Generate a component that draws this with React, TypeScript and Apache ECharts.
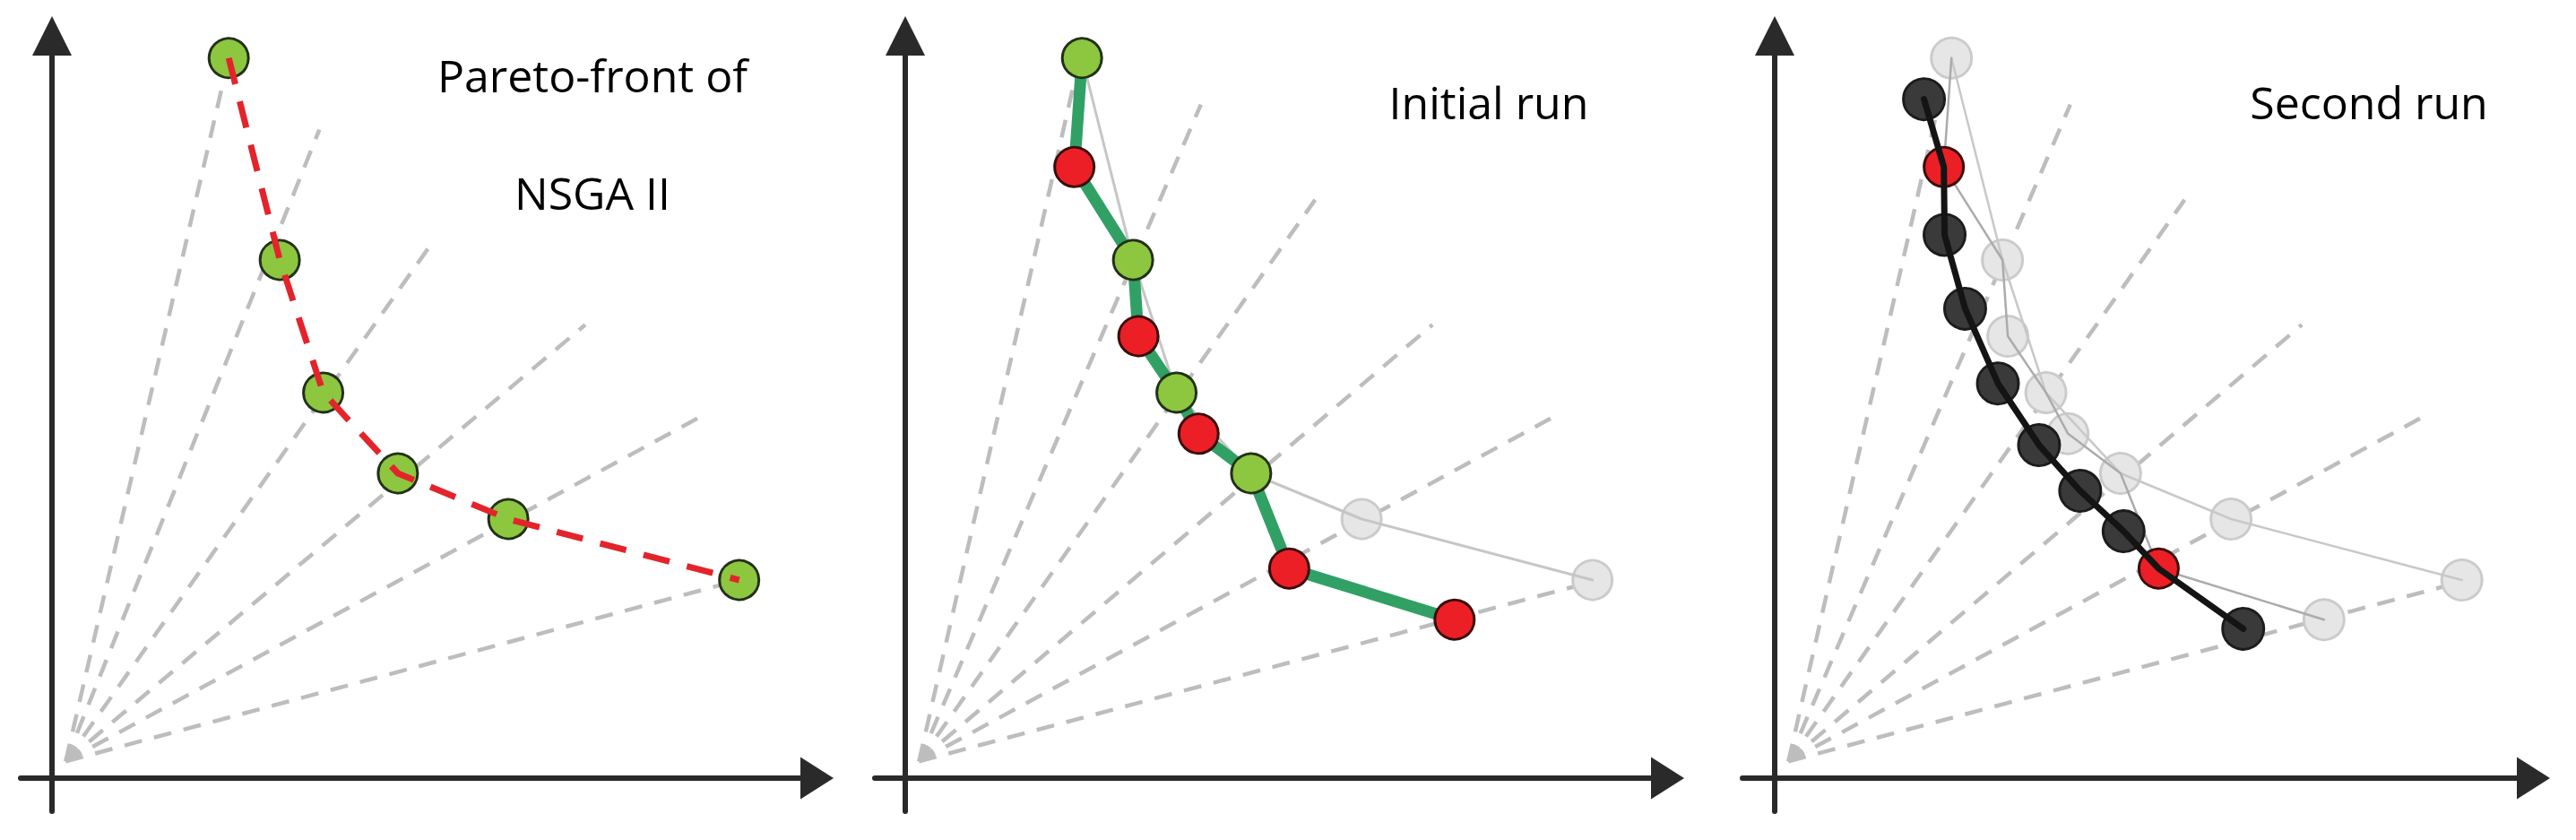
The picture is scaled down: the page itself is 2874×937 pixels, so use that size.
import React, { useEffect, useRef } from 'react';
import * as echarts from 'echarts';

type Pt = [number, number];

// ---- data (objective values f1, f2; arbitrary units) ----
// Pareto front of NSGA II (initial front)
const INITIAL_FRONT: Pt[] = [
  [23.2, 94.5], [29.9, 68.0], [35.6, 50.6], [45.4, 40.0], [59.9, 34.0], [90.2, 26.0],
];
// new (red) solutions found in the initial run
const RUN1_NEW: Pt[] = [
  [22.2, 80.2], [30.6, 58.0], [38.5, 45.2], [50.4, 27.5], [72.1, 20.8],
];
// new (dark) solutions found in the second run
const RUN2_NEW: Pt[] = [
  [19.6, 89.1], [22.3, 71.3], [25.0, 61.6], [29.3, 51.8], [34.7, 43.7], [40.1, 37.7], [45.8, 32.4], [61.5, 19.6],
];
// fronts as ordered references: I = initial front, N = run-1 new, D = run-2 new
const RUN1_PATH: [string, number][] = [
  ['I', 0], ['N', 0], ['I', 1], ['N', 1], ['I', 2], ['N', 2], ['I', 3], ['N', 3], ['N', 4],
];
const RUN2_PATH: [string, number][] = [
  ['D', 0], ['N', 0], ['D', 1], ['D', 2], ['D', 3], ['D', 4], ['D', 5], ['D', 6], ['N', 3], ['D', 7],
];
const RUN1_KEPT: number[] = [0, 3];
const INITIAL_KEPT_RUN1: number[] = [0, 1, 2, 3];

// reference directions (rays)
const RAY_ORIGIN: Pt = [1.8, 2.2];
const RAY_ENDS_FRONT: Pt[] = [
  [23.2, 94.5], [35.1, 85.1], [50.0, 70.4], [70.0, 59.5], [84.7, 47.2], [90.2, 26.0],
];
const RAY_ENDS_RUNS: Pt[] = [
  [22.9, 94.5], [38.8, 88.4], [53.8, 75.9], [69.2, 59.5], [84.7, 47.2], [89.9, 25.7],
];

const TITLES: string[][] = [['Pareto-front of', 'NSGA II'], ['Initial run'], ['Second run']];

// ---- layout (pixels) ----
const S = 8.5; // px per unit
const PANELS = [
  { ox: 58, oy: 868, left: 23, right: 893, top: 62, bottom: 905 },
  { ox: 1010, oy: 868, left: 976, right: 1842, top: 62, bottom: 905 },
  { ox: 1980, oy: 868, left: 1944, right: 2808, top: 62, bottom: 905 },
];
const TITLE_POS: number[][][] = [[[661, 84], [661, 215]], [[1661, 114]], [[2643, 114]]];

const AXIS_COLOR = '#2a2a2a';
const RAY_COLOR = '#bdbdbd';
const GREEN = '#8dc63f';
const GREEN_BORDER = '#22301a';
const RED = '#ec1f26';
const RED_BORDER = '#3a0c0c';
const DARK = '#3a3a3a';
const DARK_BORDER = '#1c1c1c';
const GHOST = '#e6e6e6';
const GHOST_BORDER = '#cbcbcb';

const lookup = (set: string, idx: number): Pt =>
  set === 'I' ? INITIAL_FRONT[idx] : set === 'N' ? RUN1_NEW[idx] : RUN2_NEW[idx];

function buildOption(): any {
  const grid = PANELS.map((p) => ({
    left: p.left,
    top: p.top,
    width: p.right - p.left,
    height: p.bottom - p.top,
    containLabel: false,
  }));
  const hidden = {
    axisTick: { show: false },
    axisLabel: { show: false },
    splitLine: { show: false },
  };
  const xAxis = PANELS.map((p, i) => ({
    type: 'value',
    gridIndex: i,
    min: (p.left - p.ox) / S,
    max: (p.right - p.ox) / S,
    axisLine: {
      show: true,
      onZero: true,
      symbol: ['none', 'triangle'],
      symbolSize: [47, 37],
      symbolOffset: [0, 18.5],
      lineStyle: { color: AXIS_COLOR, width: 6 },
    },
    ...hidden,
  }));
  const yAxis = PANELS.map((p, i) => ({
    type: 'value',
    gridIndex: i,
    min: (p.oy - p.bottom) / S,
    max: (p.oy - p.top) / S,
    axisLine: {
      show: true,
      onZero: true,
      symbol: ['none', 'triangle'],
      symbolSize: [44, 44],
      symbolOffset: [0, 22],
      lineStyle: { color: AXIS_COLOR, width: 6 },
    },
    ...hidden,
  }));

  const rays = (i: number, ends: Pt[]) => ({
    type: 'lines',
    coordinateSystem: 'cartesian2d',
    xAxisIndex: i,
    yAxisIndex: i,
    data: ends.map((e) => ({ coords: [RAY_ORIGIN, e] })),
    lineStyle: { color: RAY_COLOR, width: 4.5, type: [20, 14], opacity: 1, curveness: 0 },
    z: 1,
    silent: true,
  });
  const markers = (i: number, data: Pt[], fill: string, border: string, z: number, size = 44) => ({
    type: 'scatter',
    xAxisIndex: i,
    yAxisIndex: i,
    data,
    symbol: 'circle',
    symbolSize: size,
    itemStyle: { color: fill, borderColor: border, borderWidth: 3, opacity: 1 },
    z,
    silent: true,
    clip: false,
  });
  const path = (i: number, data: Pt[], color: string, width: number, z: number, type: any = 'solid') => ({
    type: 'line',
    xAxisIndex: i,
    yAxisIndex: i,
    data,
    symbol: 'none',
    showSymbol: false,
    lineStyle: { color, width, type, cap: type === 'solid' ? 'round' : 'butt', join: 'round' },
    z,
    silent: true,
    clip: false,
  });

  const run1Front = RUN1_PATH.map(([s, k]) => lookup(s, k));
  const run2Front = RUN2_PATH.map(([s, k]) => lookup(s, k));

  const series: any[] = [
    // panel 1
    rays(0, RAY_ENDS_FRONT),
    markers(0, INITIAL_FRONT, GREEN, GREEN_BORDER, 2),
    path(0, INITIAL_FRONT, '#e3242b', 7, 3, [30, 20]),
    // panel 2
    rays(1, RAY_ENDS_RUNS),
    markers(1, INITIAL_FRONT.filter((_, k) => !INITIAL_KEPT_RUN1.includes(k)), GHOST, GHOST_BORDER, 2),
    path(1, INITIAL_FRONT, '#c6c6c6', 3, 3),
    path(1, run1Front, '#31a064', 13, 4),
    markers(1, INITIAL_FRONT.filter((_, k) => INITIAL_KEPT_RUN1.includes(k)), GREEN, GREEN_BORDER, 5),
    markers(1, RUN1_NEW, RED, RED_BORDER, 5),
    // panel 3
    rays(2, RAY_ENDS_RUNS),
    markers(2, [...INITIAL_FRONT, ...RUN1_NEW.filter((_, k) => !RUN1_KEPT.includes(k))], GHOST, GHOST_BORDER, 2, 45),
    path(2, INITIAL_FRONT, '#c8c8c8', 2.5, 3),
    path(2, run1Front, '#ababab', 2.5, 3),
    markers(2, RUN2_NEW, DARK, DARK_BORDER, 4, 46),
    markers(2, RUN1_NEW.filter((_, k) => RUN1_KEPT.includes(k)), RED, RED_BORDER, 4),
    path(2, run2Front, '#141414', 7, 5),
  ];

  const graphic = TITLES.flatMap((lines, i) =>
    lines.map((t, j) => ({
      type: 'text',
      x: TITLE_POS[i][j][0],
      y: TITLE_POS[i][j][1],
      silent: true,
      z: 10,
      style: {
        text: t,
        fill: '#000',
        fontSize: 50,
        fontFamily: '"Open Sans"',
        align: 'center',
        verticalAlign: 'middle',
        textAlign: 'center',
        textVerticalAlign: 'middle',
      },
    }))
  );

  return {
    animation: false,
    backgroundColor: '#ffffff',
    grid,
    xAxis,
    yAxis,
    series,
    graphic: { elements: graphic },
  };
}

export default function App() {
  const ref = useRef<HTMLDivElement>(null);
  useEffect(() => {
    if (!ref.current) return;
    const chart = echarts.init(ref.current, undefined, { renderer: 'svg' });
    chart.setOption(buildOption());
    return () => chart.dispose();
  }, []);
  return (
    <div
      ref={ref}
      style={{ position: 'fixed', left: 0, top: 0, width: 2874, height: 937, background: '#fff' }}
    />
  );
}
